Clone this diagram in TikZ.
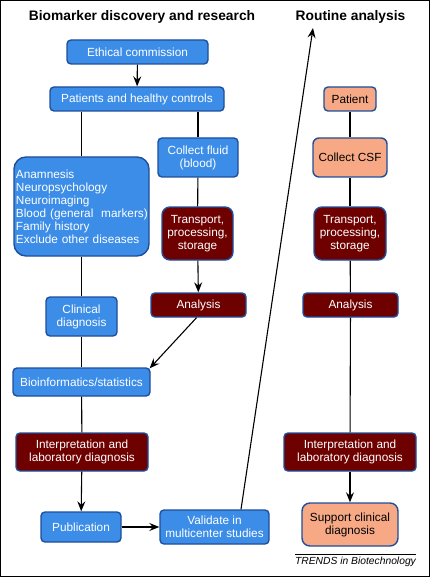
\documentclass[tikz,border=0pt]{standalone}
\usepackage{fontspec}
\setmainfont{Liberation Sans}
\usetikzlibrary{arrows.meta,calc}
\definecolor{bfill}{RGB}{60,141,232}
\definecolor{bline}{RGB}{30,78,156}
\definecolor{mfill}{RGB}{111,0,0}
\definecolor{sfill}{RGB}{247,169,133}
\begin{document}
\begin{tikzpicture}[x=1pt,y=-1pt,
  box/.style={draw=bline,line width=1.4pt,rounded corners=4pt,align=center,inner sep=2pt,
    font=\fontsize{11.8}{13}\selectfont},
  bbox/.style={box,fill=bfill,text=white},
  mbox/.style={box,fill=mfill,text=white},
  sbox/.style={box,fill=sfill,text=black},
  ttl/.style={font=\fontsize{13.8}{16}\selectfont\bfseries},
  conn/.style={line width=1.1pt},
  arr/.style={conn,-{Stealth[length=10pt,width=8pt,inset=3.5pt]}}]
\useasboundingbox (0,0) rectangle (430,577);
\draw[line width=1pt] (0.5,0.5) rectangle (429.5,576.5);
% titles
\node[ttl] (t1) at (142,17) {Biomarker discovery and research};
\node[ttl] (t2) at (350.5,17) {Routine analysis};
% left / middle columns
\node[bbox,minimum width=141pt,minimum height=24pt] (eth) at (137.5,52) {Ethical commission};
\node[bbox,minimum width=174pt,minimum height=24pt] (pat) at (137,99) {Patients and healthy controls};
\node[bbox,minimum width=80pt,minimum height=39pt] (fluid) at (198,157.5) {Collect fluid\\(blood)};
\node[bbox,rounded corners=12pt,minimum width=135pt,minimum height=99pt,align=left,text width=131pt,inner sep=2pt] (anam) at (81.5,206.5)
  {Anamnesis\\Neuropsychology\\Neuroimaging\\\mbox{Blood (general\ \ markers)}\\Family history\\\mbox{Exclude other diseases}};
\node[mbox,rounded corners=8pt,minimum width=71pt,minimum height=53pt] (trl) at (197.5,233.5) {Transport,\\processing,\\storage};
\node[mbox,minimum width=95pt,minimum height=24pt] (anl) at (198.5,305) {Analysis};
\node[bbox,minimum width=71pt,minimum height=39pt] (clin) at (81.5,316.5) {Clinical\\diagnosis};
\node[bbox,minimum width=137pt,minimum height=28pt] (bio) at (81.5,382) {Bioinformatics/statistics};
\node[mbox,minimum width=132pt,minimum height=38pt] (intl) at (82,452) {Interpretation and\\laboratory diagnosis};
\node[bbox,minimum width=80pt,minimum height=30pt] (pub) at (81,527) {Publication};
\node[bbox,minimum width=109pt,minimum height=34pt] (val) at (214.5,527) {Validate in\\multicenter studies};
% right column
\node[sbox,minimum width=52pt,minimum height=24pt] (pt) at (350,99) {Patient};
\node[sbox,rounded corners=6pt,minimum width=74pt,minimum height=39pt] (csf) at (350,157.5) {Collect CSF};
\node[mbox,rounded corners=8pt,minimum width=72pt,minimum height=53pt] (trr) at (350,233.5) {Transport,\\processing,\\storage};
\node[mbox,minimum width=95pt,minimum height=24pt] (anr) at (350.5,305) {Analysis};
\node[mbox,minimum width=132pt,minimum height=38pt] (intr) at (350,452) {Interpretation and\\laboratory diagnosis};
\node[sbox,rounded corners=8pt,minimum width=96pt,minimum height=43pt] (sup) at (350,524.5) {Support clinical\\diagnosis};
% connectors
\draw[arr] (eth) -- (pat);
\draw[conn] (pat.south -| anam.north) -- (anam.north);
\draw[conn] (pat.south -| fluid.north) -- (fluid.north);
\draw[conn] (fluid) -- (trl);
\draw[arr] (trl) -- (anl);
\draw[conn] (anam) -- (clin);
\draw[conn] (clin) -- (bio);
\draw[arr] ([xshift=-2pt]anl.south) -- ([xshift=-1pt,yshift=-1pt]bio.north east);
\draw[conn] (bio) -- (intl);
\draw[arr] (intl) -- (pub);
\draw[arr] (pub) -- (val);
\coordinate (rt) at (313,28);
\draw[arr] ([xshift=26.5pt]val.north) -- (rt);
\draw[conn] (pt) -- (csf);
\draw[conn] (csf) -- (trr);
\draw[conn] (trr) -- (anr);
\draw[conn] (anr) -- (intr);
\draw[arr] (intr) -- (sup);
% source line
\coordinate (sl) at (295,554);
\coordinate (sr) at (416,554);
\draw[line width=0.6pt] (sl) -- (sr);
\node[font=\fontsize{10.3}{12}\selectfont\itshape] (src) at (355.5,562) {TRENDS in Biotechnology};
\end{tikzpicture}
\end{document}
